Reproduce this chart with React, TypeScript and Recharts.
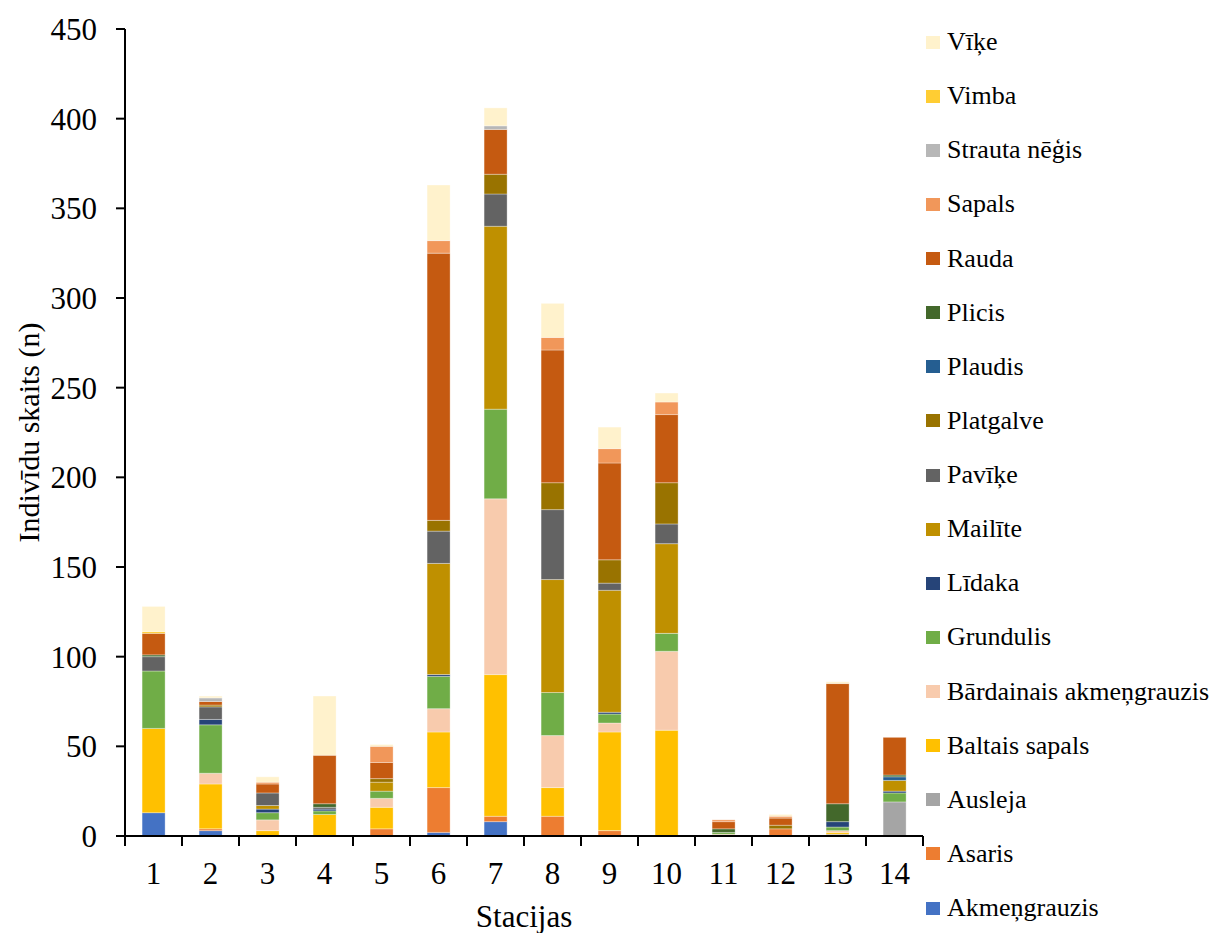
import { BarChart, Bar, XAxis, YAxis, Label } from 'recharts';

// fish counts per station, one array per species (stations 1..14)
const stations = ['1', '2', '3', '4', '5', '6', '7', '8', '9', '10', '11', '12', '13', '14'];

const akmengrauzis = [13, 3, 0, 0, 0, 2, 8, 0, 0, 0, 0, 0, 0, 0];
const asaris = [0, 1, 0, 0, 4, 25, 3, 11, 3, 0, 0, 4, 0, 0];
const ausleja = [0, 0, 0, 0, 0, 0, 0, 0, 0, 0, 0, 0, 1, 19];
const baltaisSapals = [47, 25, 3, 12, 12, 31, 79, 16, 55, 59, 0, 0, 1, 0];
const bardainais = [0, 6, 6, 0, 5, 13, 98, 29, 5, 44, 1, 0, 1, 0];
const grundulis = [32, 27, 4, 2, 4, 18, 50, 24, 5, 10, 1, 0, 2, 5];
const lidaka = [0, 3, 2, 1, 0, 1, 0, 0, 1, 0, 0, 0, 3, 1];
const mailite = [0, 0, 2, 0, 5, 62, 102, 63, 68, 50, 0, 0, 0, 6];
const pavike = [8, 7, 7, 1, 0, 18, 18, 39, 4, 11, 0, 0, 0, 0];
const platgalve = [0, 1, 0, 0, 2, 6, 11, 15, 13, 23, 0, 2, 0, 0];
const plaudis = [0, 0, 0, 0, 0, 0, 0, 0, 0, 0, 0, 0, 0, 2];
const plicis = [1, 0, 0, 2, 0, 0, 0, 0, 0, 0, 2, 0, 10, 1];
const rauda = [12, 2, 5, 27, 9, 149, 25, 74, 54, 38, 4, 4, 67, 21];
const sapals = [0, 0, 1, 0, 9, 7, 0, 7, 8, 7, 1, 1, 0, 0];
const strautaNegis = [0, 2, 0, 0, 0, 0, 2, 0, 0, 0, 0, 0, 0, 0];
const vimba = [1, 0, 0, 0, 0, 0, 0, 0, 0, 0, 0, 0, 0, 0];
const vike = [14, 1, 3, 33, 1, 31, 10, 19, 12, 5, 0, 1, 1, 0];

const yTicks = [0, 50, 100, 150, 200, 250, 300, 350, 400, 450];

// stacking order, bottom to top
const species = [
  { key: 'akm', name: 'Akmeņgrauzis', values: akmengrauzis, color: '#4472C4' },
  { key: 'asa', name: 'Asaris', values: asaris, color: '#ED7D31' },
  { key: 'aus', name: 'Ausleja', values: ausleja, color: '#A5A5A5' },
  { key: 'bsa', name: 'Baltais sapals', values: baltaisSapals, color: '#FFC000' },
  { key: 'bak', name: 'Bārdainais akmeņgrauzis', values: bardainais, color: '#F8CBAD' },
  { key: 'gru', name: 'Grundulis', values: grundulis, color: '#70AD47' },
  { key: 'lid', name: 'Līdaka', values: lidaka, color: '#264478' },
  { key: 'mai', name: 'Mailīte', values: mailite, color: '#BF9000' },
  { key: 'pav', name: 'Pavīķe', values: pavike, color: '#636363' },
  { key: 'pla', name: 'Platgalve', values: platgalve, color: '#997300' },
  { key: 'plu', name: 'Plaudis', values: plaudis, color: '#255E91' },
  { key: 'pli', name: 'Plicis', values: plicis, color: '#43682B' },
  { key: 'rau', name: 'Rauda', values: rauda, color: '#C55A11' },
  { key: 'sap', name: 'Sapals', values: sapals, color: '#F1975A' },
  { key: 'str', name: 'Strauta nēģis', values: strautaNegis, color: '#B7B7B7' },
  { key: 'vim', name: 'Vimba', values: vimba, color: '#FFCD33' },
  { key: 'vik', name: 'Vīķe', values: vike, color: '#FFF2CC' },
];

const data = stations.map((st, i) => {
  const row: Record<string, string | number> = { station: st };
  species.forEach((s) => {
    row[s.key] = s.values[i];
  });
  return row;
});

const FONT = "'Liberation Serif', 'Times New Roman', serif";
const W = 1218;
const H = 933;
const MARGIN = { top: 29, right: 295, bottom: 0, left: 0 };
const Y_AXIS_W = 125;
const X_AXIS_H = 97;
const PLOT_W = W - MARGIN.right - MARGIN.left - Y_AXIS_W;
const AXIS_Y = H - X_AXIS_H;
const BAND = PLOT_W / stations.length;

// x ticks: label at the category centre, tick marks on the category borders
const StationTick = (props: any) => {
  const { x, payload, index } = props;
  const half = BAND / 2;
  return (
    <g>
      <line x1={x - half} x2={x - half} y1={AXIS_Y} y2={AXIS_Y + 10} stroke="#000" strokeWidth={2} />
      {index === stations.length - 1 && (
        <line x1={x + half} x2={x + half} y1={AXIS_Y} y2={AXIS_Y + 10} stroke="#000" strokeWidth={2} />
      )}
      <text x={x} y={AXIS_Y + 48} textAnchor="middle" fontFamily={FONT} fontSize={31} fill="#000">
        {payload.value}
      </text>
    </g>
  );
};

const YTitle = (props: any) => {
  const vb = props.viewBox || {};
  const cx = 28;
  const cy = vb.height ? vb.y + vb.height / 2 : (MARGIN.top + AXIS_Y) / 2;
  return (
    <text
      x={cx}
      y={cy}
      transform={`rotate(-90 ${cx} ${cy})`}
      textAnchor="middle"
      dominantBaseline="central"
      fontFamily={FONT}
      fontSize={30}
      fill="#000"
    >
      Indivīdu skaits (n)
    </text>
  );
};

const SpeciesLegend = () => (
  <div style={{ position: 'absolute', left: 926, top: 42, fontFamily: FONT, fontSize: 26, color: '#000' }}>
    {[...species].reverse().map((s, i) => (
      <div
        key={s.key}
        style={{
          position: 'absolute',
          top: i * 54.125,
          left: 0,
          display: 'flex',
          alignItems: 'center',
          whiteSpace: 'nowrap',
          transform: 'translateY(-50%)',
        }}
      >
        <span style={{ display: 'inline-block', width: 14, height: 13, background: s.color, marginRight: 7 }} />
        <span>{s.name}</span>
      </div>
    ))}
  </div>
);

export default function App() {
  return (
    <div style={{ position: 'absolute', left: 0, top: 0, width: W, height: H, background: '#fff' }}>
      <BarChart width={W} height={H} data={data} margin={MARGIN} barCategoryGap="30%">
        <XAxis
          dataKey="station"
          height={X_AXIS_H}
          axisLine={{ stroke: '#000', strokeWidth: 2 }}
          tickLine={false}
          tick={<StationTick />}
          interval={0}
        >
          <Label
            value="Stacijas"
            position="insideBottom"
            offset={6}
            fontFamily={FONT}
            fontSize={31}
            fill="#000"
          />
        </XAxis>
        <YAxis
          width={Y_AXIS_W}
          domain={[0, 450]}
          ticks={yTicks}
          interval={0}
          axisLine={{ stroke: '#000', strokeWidth: 2 }}
          tickLine={{ stroke: '#000', strokeWidth: 2 }}
          tickSize={9}
          tickMargin={19}
          tick={{ fontFamily: FONT, fontSize: 31, fill: '#000' }}
          label={<YTitle />}
        />
        {species.map((s) => (
          <Bar
            key={s.key}
            dataKey={s.key}
            name={s.name}
            stackId="a"
            fill={s.color}
            stroke="rgba(255,255,255,0.4)"
            strokeWidth={0.8}
            isAnimationActive={false}
          />
        ))}
      </BarChart>
      <SpeciesLegend />
    </div>
  );
}
